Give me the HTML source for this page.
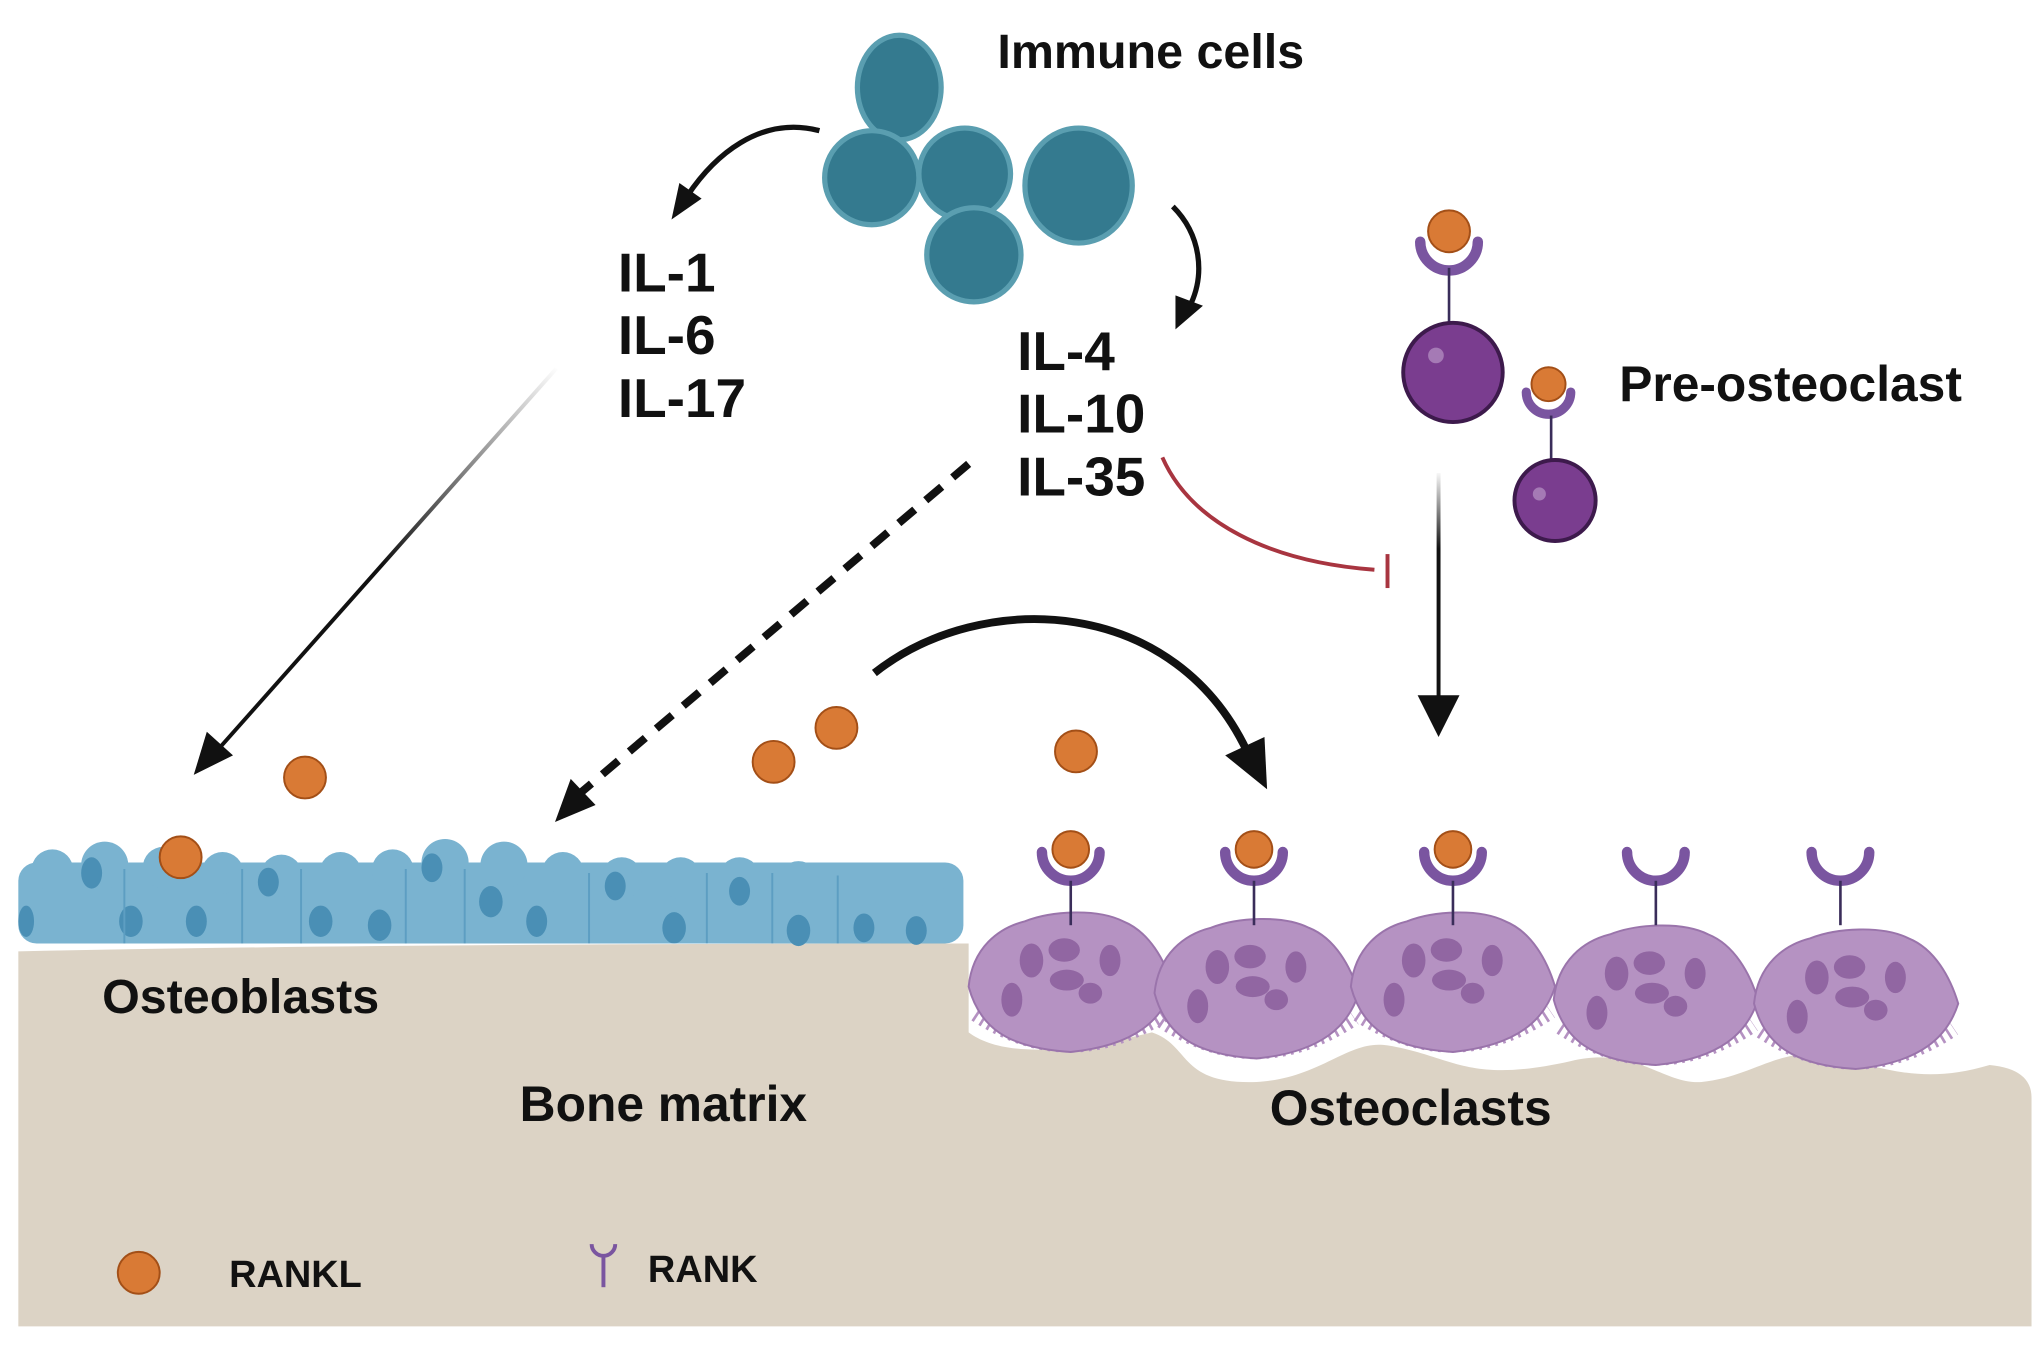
<!DOCTYPE html>
<html><head><meta charset="utf-8"><style>
html,body{margin:0;padding:0;background:#fff;}
svg{display:block;}
text{font-family:"Liberation Sans",sans-serif;font-weight:bold;fill:#111;}
</style></head><body>
<svg width="2042" height="1346" viewBox="0 0 1560 1030" preserveAspectRatio="none">
<defs>
<linearGradient id="gr" x1="425" y1="280" x2="300" y2="440" gradientUnits="userSpaceOnUse">
<stop offset="0" stop-color="#fff"/><stop offset="1" stop-color="#111"/></linearGradient>
<linearGradient id="gv" x1="0" y1="360" x2="0" y2="420" gradientUnits="userSpaceOnUse">
<stop offset="0" stop-color="#fff"/><stop offset="1" stop-color="#111"/></linearGradient>
<g id="oc">
<path d="M-72,70 Q0,118 74,68" fill="none" stroke="#b592c2" stroke-width="14" stroke-dasharray="2 4"/>
<path d="M-78,50 C-75,20 -55,5 -35,0 C-15,-8 20,-10 40,0 C60,8 72,30 78,50 C70,75 50,95 0,100 C-50,97 -70,80 -78,50 Z" fill="#b592c2" stroke="#9a74ab" stroke-width="1.5"/>
<ellipse cx="-30" cy="30" rx="9" ry="13" fill="#9166a2"/>
<ellipse cx="-5" cy="22" rx="12" ry="9" fill="#9166a2"/>
<ellipse cx="30" cy="30" rx="8" ry="12" fill="#9166a2"/>
<ellipse cx="-3" cy="45" rx="13" ry="8" fill="#9166a2"/>
<ellipse cx="-45" cy="60" rx="8" ry="13" fill="#9166a2"/>
<ellipse cx="15" cy="55" rx="9" ry="8" fill="#9166a2"/>
</g>
<g id="rk">
<path d="M-22,-8 A22,22 0 0 0 22,-8" fill="none" stroke="#7a55a0" stroke-width="8" stroke-linecap="round"/>
<line x1="0" y1="14" x2="0" y2="48" stroke="#3a2d5a" stroke-width="2"/>
</g>
</defs>
<path d="M14,728 Q300,722 740,722 L740,790 C760,805 800,810 880,790 C910,800 900,830 960,828 C1010,825 1030,795 1060,800 C1110,808 1120,830 1200,812 C1250,800 1270,830 1300,828 C1340,824 1360,800 1400,808 C1440,818 1470,830 1520,815 Q1552,818 1552,840 L1552,1015 L14,1015 Z" fill="#dcd3c5"/>
<g fill="#7ab3d0">
<rect x="14" y="660" width="722" height="62" rx="14"/>
<circle cx="40" cy="666" r="16"/><circle cx="80" cy="662" r="18"/><circle cx="125" cy="664" r="16"/><circle cx="170" cy="668" r="16"/><circle cx="215" cy="670" r="16"/><circle cx="260" cy="668" r="16"/><circle cx="300" cy="666" r="16"/><circle cx="340" cy="660" r="18"/><circle cx="385" cy="662" r="18"/><circle cx="430" cy="668" r="16"/><circle cx="475" cy="672" r="16"/><circle cx="520" cy="672" r="16"/><circle cx="565" cy="672" r="16"/><circle cx="610" cy="675" r="16"/><circle cx="660" cy="677" r="16"/><circle cx="705" cy="677" r="16"/>
</g>
<g fill="#4a8fb5">
<ellipse cx="70" cy="668" rx="8" ry="12"/><ellipse cx="100" cy="705" rx="9" ry="12"/><ellipse cx="150" cy="705" rx="8" ry="12"/>
<ellipse cx="205" cy="675" rx="8" ry="11"/><ellipse cx="245" cy="705" rx="9" ry="12"/><ellipse cx="290" cy="708" rx="9" ry="12"/>
<ellipse cx="330" cy="664" rx="8" ry="11"/><ellipse cx="375" cy="690" rx="9" ry="12"/><ellipse cx="410" cy="705" rx="8" ry="12"/>
<ellipse cx="470" cy="678" rx="8" ry="11"/><ellipse cx="515" cy="710" rx="9" ry="12"/><ellipse cx="565" cy="682" rx="8" ry="11"/>
<ellipse cx="610" cy="712" rx="9" ry="12"/><ellipse cx="660" cy="710" rx="8" ry="11"/><ellipse cx="700" cy="712" rx="8" ry="11"/>
<ellipse cx="20" cy="705" rx="6" ry="12"/>
</g>
<g stroke="#5d9ec2" stroke-width="1.5">
<line x1="95" y1="665" x2="95" y2="722"/><line x1="185" y1="665" x2="185" y2="722"/><line x1="230" y1="665" x2="230" y2="722"/><line x1="310" y1="665" x2="310" y2="722"/><line x1="355" y1="665" x2="355" y2="722"/><line x1="450" y1="668" x2="450" y2="722"/><line x1="540" y1="668" x2="540" y2="722"/><line x1="590" y1="668" x2="590" y2="722"/><line x1="640" y1="670" x2="640" y2="722"/>
</g>
<circle cx="138" cy="656" r="16" fill="#d97a35" stroke="#a34f17" stroke-width="1.5"/>
<use href="#oc" x="818" y="705"/><use href="#oc" x="960" y="710"/><use href="#oc" x="1110" y="705"/><use href="#oc" x="1265" y="715"/><use href="#oc" x="1418" y="718"/>
<use href="#rk" x="818" y="660"/><use href="#rk" x="958" y="660"/><use href="#rk" x="1110" y="660"/><use href="#rk" x="1265" y="660"/><use href="#rk" x="1406" y="660"/>
<g fill="#d97a35" stroke="#a34f17" stroke-width="1.5">
<circle cx="818" cy="650" r="14"/><circle cx="958" cy="650" r="14"/><circle cx="1110" cy="650" r="14"/>
<circle cx="233" cy="595" r="16"/><circle cx="591" cy="583" r="16"/><circle cx="639" cy="557" r="16"/><circle cx="822" cy="575" r="16"/>
<circle cx="1107" cy="177" r="16"/><circle cx="1183" cy="294" r="13"/>
<circle cx="106" cy="974" r="16"/>
</g>
<path d="M1085,185 A22,22 0 0 0 1129,185" fill="none" stroke="#7a55a0" stroke-width="8" stroke-linecap="round"/>
<line x1="1107" y1="205" x2="1107" y2="250" stroke="#3a2d5a" stroke-width="2"/>
<circle cx="1110" cy="285" r="38" fill="#7a3d8f" stroke="#3d1a4c" stroke-width="3"/><circle cx="1097" cy="272" r="6" fill="#a57ab5"/>
<path d="M1166,300 A17,17 0 0 0 1200,300" fill="none" stroke="#7a55a0" stroke-width="7" stroke-linecap="round"/>
<line x1="1185" y1="318" x2="1185" y2="352" stroke="#3a2d5a" stroke-width="2"/>
<circle cx="1188" cy="383" r="31" fill="#7a3d8f" stroke="#3d1a4c" stroke-width="3"/><circle cx="1176" cy="378" r="5" fill="#a57ab5"/>
<g fill="#347a8f" stroke="#5a9eb0" stroke-width="4">
<ellipse cx="687" cy="67" rx="32" ry="40"/>
<circle cx="666" cy="136" r="36"/>
<circle cx="737" cy="133" r="35"/>
<ellipse cx="824" cy="142" rx="41" ry="44"/>
<circle cx="744" cy="195" r="36"/>
</g>
<path d="M626,100 C580,88 545,120 525,150" fill="none" stroke="#111" stroke-width="4"/>
<path d="M513,168 L519,140 L536,152 Z" fill="#111"/>
<path d="M896,158 C918,180 920,210 910,232" fill="none" stroke="#111" stroke-width="4"/>
<path d="M898,252 L898,226 L919,234 Z" fill="#111"/>
<line x1="425" y1="282" x2="168" y2="572" stroke="url(#gr)" stroke-width="3"/>
<path d="M148,593 L158,560 L178,578 Z" fill="#111"/>
<line x1="740" y1="355" x2="442" y2="608" stroke="#111" stroke-width="6" stroke-dasharray="16 11"/>
<path d="M424,629 L436,596 L455,616 Z" fill="#111"/>
<path d="M888,350 C910,400 970,430 1050,436" fill="none" stroke="#a83540" stroke-width="3"/>
<line x1="1060" y1="424" x2="1060" y2="450" stroke="#a83540" stroke-width="3"/>
<line x1="1099" y1="362" x2="1099" y2="535" stroke="url(#gv)" stroke-width="3"/>
<path d="M1083,532 L1115,532 L1099,564 Z" fill="#111"/>
<path d="M668,515 C750,450 900,455 955,580" fill="none" stroke="#111" stroke-width="6"/>
<path d="M968,604 L936,578 L966,564 Z" fill="#111"/>
<path d="M452,952 A9,9 0 0 0 470,952" fill="none" stroke="#7a55a0" stroke-width="3"/>
<line x1="461" y1="961" x2="461" y2="985" stroke="#7a55a0" stroke-width="3"/>
<text x="762" y="52" font-size="37">Immune cells</text>
<text x="472" y="223" font-size="42">IL-1</text>
<text x="472" y="271" font-size="42">IL-6</text>
<text x="472" y="319" font-size="42">IL-17</text>
<text x="777" y="283" font-size="42">IL-4</text>
<text x="777" y="331" font-size="42">IL-10</text>
<text x="777" y="379" font-size="42">IL-35</text>
<text x="1237" y="307" font-size="38">Pre-osteoclast</text>
<text x="78" y="775" font-size="37">Osteoblasts</text>
<text x="397" y="858" font-size="38">Bone matrix</text>
<text x="970" y="861" font-size="38">Osteoclasts</text>
<text x="175" y="985" font-size="29">RANKL</text>
<text x="495" y="981" font-size="29">RANK</text>
</svg>
</body></html>
